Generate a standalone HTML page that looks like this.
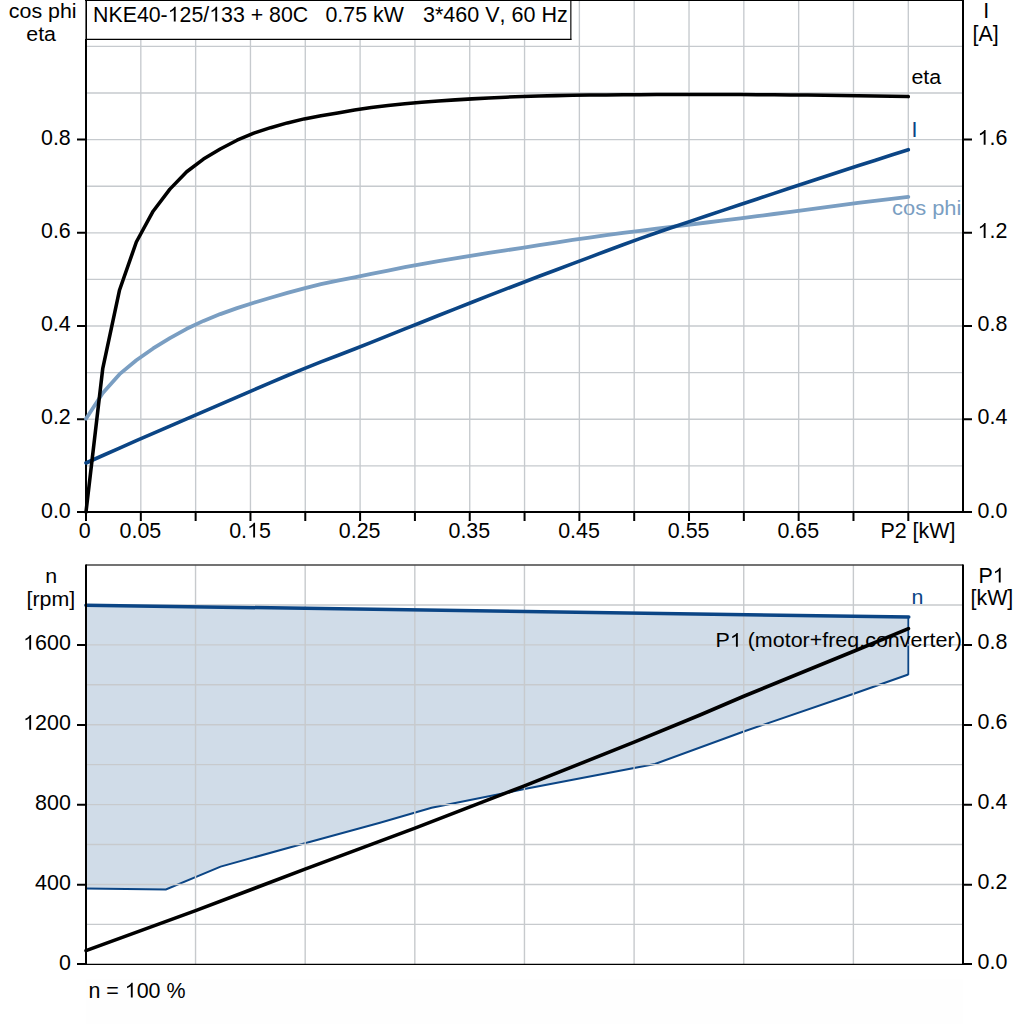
<!DOCTYPE html>
<html><head><meta charset="utf-8"><title>Motor curves</title>
<style>html,body{margin:0;padding:0;background:#fff;width:1024px;height:1024px;overflow:hidden}svg{display:block}text{font-family:"Liberation Sans",sans-serif;font-kerning:none;white-space:pre}</style></head>
<body>
<svg width="1024" height="1024" viewBox="0 0 1024 1024" font-family="'Liberation Sans', sans-serif">
<rect width="1024" height="1024" fill="#fff"/>
<path d="M140.82,0 V512.0 M195.64,0 V512.0 M250.46,0 V512.0 M305.28,0 V512.0 M360.10,0 V512.0 M414.92,0 V512.0 M469.74,0 V512.0 M524.56,0 V512.0 M579.38,0 V512.0 M634.20,0 V512.0 M689.02,0 V512.0 M743.84,0 V512.0 M798.66,0 V512.0 M853.48,0 V512.0 M908.30,0 V512.0 M86.0,465.80 H963.0 M86.0,419.20 H963.0 M86.0,372.60 H963.0 M86.0,326.00 H963.0 M86.0,279.40 H963.0 M86.0,232.80 H963.0 M86.0,186.20 H963.0 M86.0,139.60 H963.0 M86.0,93.00 H963.0 M86.0,46.40 H963.0" stroke="#c6cace" stroke-width="1.35" fill="none"/>
<path d="M85,0.5 H964" stroke="#000" stroke-width="1.2" fill="none"/>
<path d="M86.0,39 V513.0 M963.0,0 V513.0" stroke="#000" stroke-width="2" fill="none"/>
<path d="M77,512.0 H972" stroke="#000" stroke-width="2" fill="none"/>
<path d="M86.00,512.0 V520.9 M140.82,512.0 V520.9 M195.64,512.0 V520.9 M250.46,512.0 V520.9 M305.28,512.0 V520.9 M360.10,512.0 V520.9 M414.92,512.0 V520.9 M469.74,512.0 V520.9 M524.56,512.0 V520.9 M579.38,512.0 V520.9 M634.20,512.0 V520.9 M689.02,512.0 V520.9 M743.84,512.0 V520.9 M798.66,512.0 V520.9 M853.48,512.0 V520.9 M908.30,512.0 V520.9 M77,419.20 H86.0 M963.0,419.20 H972 M77,326.00 H86.0 M963.0,326.00 H972 M77,232.80 H86.0 M963.0,232.80 H972 M77,139.60 H86.0 M963.0,139.60 H972" stroke="#000" stroke-width="2" fill="none"/>
<path d="M86.00,418.75 L102.78,393.00 L119.56,374.16 L136.34,360.23 L153.13,348.45 L169.91,338.09 L186.69,328.84 L203.47,320.90 L220.25,314.10 L237.03,308.12 L253.82,302.71 L270.60,297.73 L287.38,292.93 L304.16,288.34 L320.94,284.21 L337.72,280.52 L354.51,277.31 L371.29,273.98 L388.07,270.54 L404.85,267.17 L421.63,264.04 L438.41,261.09 L455.20,258.27 L471.98,255.53 L488.76,252.91 L505.54,250.37 L522.32,247.82 L539.10,245.21 L555.89,242.57 L572.67,239.99 L589.45,237.55 L606.23,235.21 L623.01,232.94 L639.79,230.76 L656.58,228.67 L673.36,226.64 L690.14,224.58 L706.92,222.50 L723.70,220.42 L740.48,218.31 L757.27,216.17 L774.05,214.00 L790.83,211.82 L807.61,209.60 L824.39,207.34 L841.17,205.09 L857.96,202.92 L874.74,200.83 L891.52,198.78 L908.30,196.80" stroke="#7a9ec2" stroke-width="3.8" fill="none" stroke-linejoin="round" stroke-linecap="round"/>
<path d="M86.00,463.00 L102.78,455.51 L119.56,448.07 L136.34,440.68 L153.13,433.35 L169.91,426.07 L186.69,418.81 L203.47,411.55 L220.25,404.28 L237.03,397.03 L253.82,389.83 L270.60,382.63 L287.38,375.49 L304.16,368.54 L320.94,361.91 L337.72,355.48 L354.51,349.05 L371.29,342.43 L388.07,335.70 L404.85,328.95 L421.63,322.23 L438.41,315.52 L455.20,308.83 L471.98,302.21 L488.76,295.65 L505.54,289.15 L522.32,282.70 L539.10,276.30 L555.89,269.95 L572.67,263.63 L589.45,257.31 L606.23,250.96 L623.01,244.69 L639.79,238.64 L656.58,232.79 L673.36,227.07 L690.14,221.38 L706.92,215.74 L723.70,210.15 L740.48,204.57 L757.27,198.97 L774.05,193.36 L790.83,187.77 L807.61,182.23 L824.39,176.73 L841.17,171.26 L857.96,165.83 L874.74,160.42 L891.52,155.04 L908.30,149.70" stroke="#0b4585" stroke-width="3.6" fill="none" stroke-linejoin="round" stroke-linecap="round"/>
<path d="M86.00,512.00 L102.78,368.26 L119.56,289.98 L136.34,242.00 L153.13,211.21 L169.91,189.11 L186.69,171.74 L203.47,159.05 L220.25,148.95 L237.03,140.20 L253.82,133.17 L270.60,127.68 L287.38,122.91 L304.16,118.88 L320.94,115.77 L337.72,112.88 L354.51,109.94 L371.29,107.59 L388.07,105.61 L404.85,103.77 L421.63,102.22 L438.41,100.96 L455.20,99.86 L471.98,98.87 L488.76,97.96 L505.54,97.15 L522.32,96.53 L539.10,96.03 L555.89,95.62 L572.67,95.30 L589.45,95.08 L606.23,94.91 L623.01,94.78 L639.79,94.66 L656.58,94.54 L673.36,94.44 L690.14,94.40 L706.92,94.43 L723.70,94.49 L740.48,94.58 L757.27,94.67 L774.05,94.78 L790.83,94.92 L807.61,95.08 L824.39,95.29 L841.17,95.53 L857.96,95.77 L874.74,96.03 L891.52,96.31 L908.30,96.60" stroke="#000" stroke-width="3.55" fill="none" stroke-linejoin="round" stroke-linecap="round"/>
<rect x="86" y="0" width="484.8" height="39.3" fill="#fff"/>
<path d="M85,0.5 H571.4" stroke="#000" stroke-width="1.2" fill="none"/>
<path d="M86.2,0 V40" stroke="#000" stroke-width="1.6" fill="none"/>
<path d="M570.85,0 V39.9" stroke="#000" stroke-width="1.15" fill="none"/>
<path d="M86,39.3 H571.4" stroke="#000" stroke-width="1.15" fill="none"/>
<g transform="translate(93.10,21.50) scale(1.0055,1)" font-size="21.2" fill="#000"><text x="0.00" y="0" xml:space="preserve">NKE40-</text><path transform="translate(74.23,0) scale(0.01035,-0.01006)" d="M763 0H583V1147Q518 1085 412.5 1023T223 930V1104Q374 1175 487 1276T647 1472H763Z"/><text x="86.02" y="0" xml:space="preserve">25/</text><path transform="translate(115.49,0) scale(0.01035,-0.01006)" d="M763 0H583V1147Q518 1085 412.5 1023T223 930V1104Q374 1175 487 1276T647 1472H763Z"/><text x="127.28" y="0" xml:space="preserve">33 + 80C</text></g>
<g transform="translate(325.50,21.50) scale(1.0072,1)" font-size="21.2" fill="#000"><text x="0.00" y="0" xml:space="preserve">0.75 kW</text></g>
<g transform="translate(423.00,21.50) scale(1.0155,1)" font-size="21.2" fill="#000"><text x="0.00" y="0" xml:space="preserve">3*460 V, 60 Hz</text></g>
<g transform="translate(42.70,17.90) scale(1.086,1)" font-size="19.7" fill="#000"><text x="-31.21" y="0" xml:space="preserve">cos phi</text></g>
<g transform="translate(41.10,40.50) scale(1.086,1)" font-size="19.7" fill="#000"><text x="-13.69" y="0" xml:space="preserve">eta</text></g>
<g transform="translate(986.20,17.80) scale(1.0106,1)" font-size="21.2" fill="#000"><text x="-2.95" y="0" xml:space="preserve">I</text></g>
<g transform="translate(985.60,40.60) scale(1.0106,1)" font-size="21.2" fill="#000"><text x="-12.96" y="0" xml:space="preserve">[A]</text></g>
<g transform="translate(70.80,517.50) scale(1.0106,1)" font-size="21.2" fill="#000"><text x="-29.47" y="0" xml:space="preserve">0.0</text></g>
<g transform="translate(70.80,424.30) scale(1.0106,1)" font-size="21.2" fill="#000"><text x="-29.47" y="0" xml:space="preserve">0.2</text></g>
<g transform="translate(70.80,331.10) scale(1.0106,1)" font-size="21.2" fill="#000"><text x="-29.47" y="0" xml:space="preserve">0.4</text></g>
<g transform="translate(70.80,237.90) scale(1.0106,1)" font-size="21.2" fill="#000"><text x="-29.47" y="0" xml:space="preserve">0.6</text></g>
<g transform="translate(70.80,144.70) scale(1.0106,1)" font-size="21.2" fill="#000"><text x="-29.47" y="0" xml:space="preserve">0.8</text></g>
<g transform="translate(977.60,517.50) scale(1.0106,1)" font-size="21.2" fill="#000"><text x="0.00" y="0" xml:space="preserve">0.0</text></g>
<g transform="translate(977.60,424.30) scale(1.0106,1)" font-size="21.2" fill="#000"><text x="0.00" y="0" xml:space="preserve">0.4</text></g>
<g transform="translate(977.60,331.10) scale(1.0106,1)" font-size="21.2" fill="#000"><text x="0.00" y="0" xml:space="preserve">0.8</text></g>
<g transform="translate(977.60,237.90) scale(1.0106,1)" font-size="21.2" fill="#000"><path transform="translate(0.00,0) scale(0.01035,-0.01006)" d="M763 0H583V1147Q518 1085 412.5 1023T223 930V1104Q374 1175 487 1276T647 1472H763Z"/><text x="11.79" y="0" xml:space="preserve">.2</text></g>
<g transform="translate(977.60,144.70) scale(1.0106,1)" font-size="21.2" fill="#000"><path transform="translate(0.00,0) scale(0.01035,-0.01006)" d="M763 0H583V1147Q518 1085 412.5 1023T223 930V1104Q374 1175 487 1276T647 1472H763Z"/><text x="11.79" y="0" xml:space="preserve">.6</text></g>
<g transform="translate(84.70,537.50) scale(1.0106,1)" font-size="21.2" fill="#000"><text x="-5.90" y="0" xml:space="preserve">0</text></g>
<g transform="translate(140.42,537.50) scale(1.0106,1)" font-size="21.2" fill="#000"><text x="-20.63" y="0" xml:space="preserve">0.05</text></g>
<g transform="translate(250.06,537.50) scale(1.0106,1)" font-size="21.2" fill="#000"><text x="-20.63" y="0" xml:space="preserve">0.</text><path transform="translate(-2.95,0) scale(0.01035,-0.01006)" d="M763 0H583V1147Q518 1085 412.5 1023T223 930V1104Q374 1175 487 1276T647 1472H763Z"/><text x="8.84" y="0" xml:space="preserve">5</text></g>
<g transform="translate(359.70,537.50) scale(1.0106,1)" font-size="21.2" fill="#000"><text x="-20.63" y="0" xml:space="preserve">0.25</text></g>
<g transform="translate(469.34,537.50) scale(1.0106,1)" font-size="21.2" fill="#000"><text x="-20.63" y="0" xml:space="preserve">0.35</text></g>
<g transform="translate(578.98,537.50) scale(1.0106,1)" font-size="21.2" fill="#000"><text x="-20.63" y="0" xml:space="preserve">0.45</text></g>
<g transform="translate(688.62,537.50) scale(1.0106,1)" font-size="21.2" fill="#000"><text x="-20.63" y="0" xml:space="preserve">0.55</text></g>
<g transform="translate(798.26,537.50) scale(1.0106,1)" font-size="21.2" fill="#000"><text x="-20.63" y="0" xml:space="preserve">0.65</text></g>
<g transform="translate(880.40,537.50) scale(1.0106,1)" font-size="21.2" fill="#000"><text x="0.00" y="0" xml:space="preserve">P2 [kW]</text></g>
<g transform="translate(911.40,83.70) scale(1.086,1)" font-size="19.7" fill="#000"><text x="0.00" y="0" xml:space="preserve">eta</text></g>
<g transform="translate(911.60,136.70) scale(1.0106,1)" font-size="21.2" fill="#0b4585"><text x="0.00" y="0" xml:space="preserve">I</text></g>
<g transform="translate(892.10,214.80) scale(1.11,1)" font-size="19.7" fill="#7a9ec2"><text x="0.00" y="0" xml:space="preserve">cos phi</text></g>
<path d="M86.00,605.20 L908.30,617.00 L908.30,674.50 L853.75,693.75 L743.75,731.50 L655.00,764.00 L524.40,789.10 L431.60,807.80 L380.00,822.80 L305.00,843.20 L220.60,866.60 L165.90,889.40 L86.00,888.40 Z" fill="#d0dce8" stroke="none"/>
<path d="M86.00,888.40 L165.90,889.40 L220.60,866.60 L305.00,843.20 L380.00,822.80 L431.60,807.80 L524.40,789.10 L655.00,764.00 L743.75,731.50 L853.75,693.75 L908.30,674.50" stroke="#0b4585" stroke-width="2.0" fill="none"/>
<path d="M908.3,617 V674.9" stroke="#0b4585" stroke-width="1.8" fill="none"/>
<path d="M195.54,565.0 V964.3 M305.18,565.0 V964.3 M414.82,565.0 V964.3 M524.46,565.0 V964.3 M634.10,565.0 V964.3 M743.74,565.0 V964.3 M853.38,565.0 V964.3 M86.0,924.37 H963.0 M86.0,884.44 H963.0 M86.0,844.51 H963.0 M86.0,804.58 H963.0 M86.0,764.65 H963.0 M86.0,724.72 H963.0 M86.0,684.79 H963.0 M86.0,644.86 H963.0 M86.0,604.93 H963.0" stroke="#c7cacd" stroke-width="1.4" fill="none"/>
<path d="M85.9,605.2 L908.8,617.0" stroke="#0b4585" stroke-width="3.5" fill="none" stroke-linecap="round"/>
<g transform="translate(715.50,646.70) scale(1.0898,1)" font-size="19.7" fill="#000"><text x="0.00" y="0" xml:space="preserve">P</text><path transform="translate(13.14,0) scale(0.00962,-0.00934)" d="M763 0H583V1147Q518 1085 412.5 1023T223 930V1104Q374 1175 487 1276T647 1472H763Z"/><text x="24.10" y="0" xml:space="preserve"> (motor+freq.converter)</text></g>
<path d="M86.00,950.70 L195.60,910.70 L305.00,869.10 L415.00,828.10 L524.40,785.90 L634.10,742.20 L700.00,715.00 L743.75,696.25 L853.75,651.25 L908.50,628.60" stroke="#000" stroke-width="3.55" fill="none" stroke-linejoin="round" stroke-linecap="round"/>
<path d="M86.0,565.0 H963.0" stroke="#444" stroke-width="1.4" fill="none"/>
<path d="M86.0,564.4 V964.6999999999999 M963.0,564.4 V964.6999999999999" stroke="#000" stroke-width="2" fill="none"/>
<path d="M86.0,964.30 H963.0" stroke="#000" stroke-width="1.3" fill="none"/>
<path d="M77,964.10 H86.0 M963.0,964.10 H972" stroke="#000" stroke-width="2" fill="none"/>
<path d="M77,884.64 H86.0 M963.0,884.64 H972 M77,804.78 H86.0 M963.0,804.78 H972 M77,724.92 H86.0 M963.0,724.92 H972 M77,645.06 H86.0 M963.0,645.06 H972" stroke="#000" stroke-width="2" fill="none"/>
<g transform="translate(51.30,582.90) scale(1.086,1)" font-size="19.7" fill="#000"><text x="-5.48" y="0" xml:space="preserve">n</text></g>
<g transform="translate(50.90,605.50) scale(1.086,1)" font-size="19.7" fill="#000"><text x="-22.44" y="0" xml:space="preserve">[rpm]</text></g>
<g transform="translate(70.80,969.90) scale(1.0106,1)" font-size="21.2" fill="#000"><text x="-11.79" y="0" xml:space="preserve">0</text></g>
<g transform="translate(70.80,889.84) scale(1.0106,1)" font-size="21.2" fill="#000"><text x="-35.37" y="0" xml:space="preserve">400</text></g>
<g transform="translate(70.80,809.78) scale(1.0106,1)" font-size="21.2" fill="#000"><text x="-35.37" y="0" xml:space="preserve">800</text></g>
<g transform="translate(70.80,729.72) scale(1.0106,1)" font-size="21.2" fill="#000"><path transform="translate(-47.16,0) scale(0.01035,-0.01006)" d="M763 0H583V1147Q518 1085 412.5 1023T223 930V1104Q374 1175 487 1276T647 1472H763Z"/><text x="-35.37" y="0" xml:space="preserve">200</text></g>
<g transform="translate(70.80,649.86) scale(1.0106,1)" font-size="21.2" fill="#000"><path transform="translate(-47.16,0) scale(0.01035,-0.01006)" d="M763 0H583V1147Q518 1085 412.5 1023T223 930V1104Q374 1175 487 1276T647 1472H763Z"/><text x="-35.37" y="0" xml:space="preserve">600</text></g>
<g transform="translate(991.50,582.60) scale(1.0106,1)" font-size="21.2" fill="#000"><text x="-12.97" y="0" xml:space="preserve">P</text><path transform="translate(1.17,0) scale(0.01035,-0.01006)" d="M763 0H583V1147Q518 1085 412.5 1023T223 930V1104Q374 1175 487 1276T647 1472H763Z"/></g>
<g transform="translate(991.90,604.90) scale(1.0106,1)" font-size="21.2" fill="#000"><text x="-21.19" y="0" xml:space="preserve">[kW]</text></g>
<g transform="translate(977.60,968.90) scale(1.0106,1)" font-size="21.2" fill="#000"><text x="0.00" y="0" xml:space="preserve">0.0</text></g>
<g transform="translate(977.60,889.04) scale(1.0106,1)" font-size="21.2" fill="#000"><text x="0.00" y="0" xml:space="preserve">0.2</text></g>
<g transform="translate(977.60,809.18) scale(1.0106,1)" font-size="21.2" fill="#000"><text x="0.00" y="0" xml:space="preserve">0.4</text></g>
<g transform="translate(977.60,729.32) scale(1.0106,1)" font-size="21.2" fill="#000"><text x="0.00" y="0" xml:space="preserve">0.6</text></g>
<g transform="translate(977.60,649.46) scale(1.0106,1)" font-size="21.2" fill="#000"><text x="0.00" y="0" xml:space="preserve">0.8</text></g>
<g transform="translate(911.60,604.40) scale(1.086,1)" font-size="19.7" fill="#0b4585"><text x="0.00" y="0" xml:space="preserve">n</text></g>
<rect x="86" y="979" width="877" height="45" fill="#fefefe"/>
<g transform="translate(88.40,997.60) scale(1.0106,1)" font-size="21.2" fill="#000"><text x="0.00" y="0" xml:space="preserve">n = </text><path transform="translate(35.95,0) scale(0.01035,-0.01006)" d="M763 0H583V1147Q518 1085 412.5 1023T223 930V1104Q374 1175 487 1276T647 1472H763Z"/><text x="47.74" y="0" xml:space="preserve">00 %</text></g>
</svg>
</body></html>
